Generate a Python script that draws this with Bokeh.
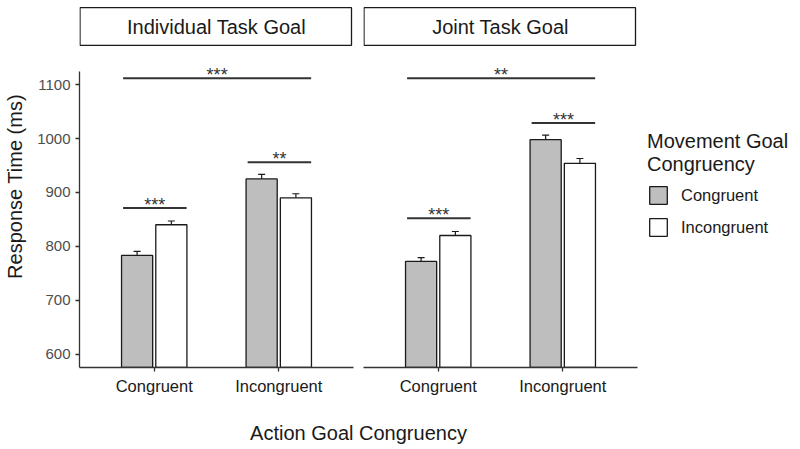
from bokeh.plotting import figure
from bokeh.models import (ColumnDataSource, Range1d, FixedTicker, Whisker, TeeHead,
                          Legend, LegendItem, Label)
from bokeh.layouts import row, column
from bokeh.embed import file_html
from bokeh.resources import INLINE
from bokeh.core.properties import value

# ---- data -------------------------------------------------------------
action_levels = ["Congruent", "Incongruent"]          # x categories
movement_levels = ["Congruent", "Incongruent"]        # fill groups
panel_titles = ["Individual Task Goal", "Joint Task Goal"]

rt_individual_cong = [783, 925]
rt_individual_incong = [840, 890]
se_individual_cong = [7.5, 8.5]
se_individual_incong = [7, 7.5]

rt_joint_cong = [772, 998]
rt_joint_incong = [820, 954]
se_joint_cong = [7, 8.5]
se_joint_incong = [7.5, 9]

# significance brackets: first / last action index spanned, height, label
sig_individual_from = [1, 2, 1]
sig_individual_to = [1, 2, 2]
sig_individual_y = [871, 956, 1112]
sig_individual_lab = ["***", "**", "***"]

sig_joint_from = [1, 2, 1]
sig_joint_to = [1, 2, 2]
sig_joint_y = [852, 1029, 1112]
sig_joint_lab = ["***", "***", "**"]

y_ticks = [600, 700, 800, 900, 1000, 1100]

# ---- style ------------------------------------------------------------
FONT = "Liberation Sans"
GREY_FILL = "#BEBEBE"
INK = "#1a1a1a"
AXIS_INK = "#333333"
Y_LO, Y_HI = 575, 1125          # panel limits (expanded 600-1100)
Y_TOP = 1247                    # room above panel for the strip
STRIP_BOTTOM, STRIP_TOP = 1173, 1243
X_LO, X_HI = 0.4, 2.6
PX_PER_UNIT = 274 / (X_HI - X_LO)
DODGE = 0.1375
BAR_W = 0.25


def make_panel(title, cong, incong, se_c, se_i, s_from, s_to, s_y, s_lab,
               width, border_left, border_right, with_y_axis, x_hi):
    p = figure(width=width, height=410, output_backend="svg", toolbar_location=None,
               x_range=Range1d(X_LO, x_hi), y_range=Range1d(Y_LO, Y_TOP),
               min_border_left=border_left, min_border_right=border_right,
               min_border_top=5, min_border_bottom=43,
               y_axis_location="left" if with_y_axis else None,
               title=None)
    p.outline_line_color = None
    p.grid.visible = False
    p.background_fill_color = "white"
    p.border_fill_color = "white"

    pos = [i + 1 for i in range(len(action_levels))]
    src_c = ColumnDataSource(dict(x=[v - DODGE for v in pos], top=cong,
                                  lo=[m - e for m, e in zip(cong, se_c)],
                                  hi=[m + e for m, e in zip(cong, se_c)]))
    src_i = ColumnDataSource(dict(x=[v + DODGE for v in pos], top=incong,
                                  lo=[m - e for m, e in zip(incong, se_i)],
                                  hi=[m + e for m, e in zip(incong, se_i)]))
    r_c = p.vbar(x="x", top="top", bottom=0, width=BAR_W, source=src_c,
                 fill_color=GREY_FILL, line_color=INK, line_width=1.3)
    r_i = p.vbar(x="x", top="top", bottom=0, width=BAR_W, source=src_i,
                 fill_color="white", line_color=INK, line_width=1.3)
    for src in (src_c, src_i):
        w = Whisker(base="x", lower="lo", upper="hi", source=src,
                    line_color=INK, line_width=1.2,
                    upper_head=TeeHead(size=7, line_color=INK, line_width=1.2),
                    lower_head=TeeHead(size=7, line_color=INK, line_width=1.2))
        p.add_layout(w)

    # significance brackets
    sig = ColumnDataSource(dict(x0=[a - 0.25 for a in s_from],
                                x1=[b + 0.26 for b in s_to],
                                xm=[(a + b) / 2 + 0.005 for a, b in zip(s_from, s_to)],
                                y=s_y, lab=s_lab))
    p.segment(x0="x0", x1="x1", y0="y", y1="y", source=sig,
              line_color=AXIS_INK, line_width=2)
    p.text(x="xm", y="y", text="lab", source=sig, text_align="center",
           text_baseline="alphabetic", y_offset=-3, text_color=AXIS_INK,
           text_font=value(FONT), text_font_size="18px")

    # facet strip
    p.quad(left=[X_LO + 0.004], right=[X_HI - 0.016], bottom=[STRIP_BOTTOM],
           top=[STRIP_TOP], fill_color="white", line_color=INK, line_width=1.3)
    p.text(x=[(X_LO + X_HI) / 2], y=[(STRIP_BOTTOM + STRIP_TOP) / 2], text=[title],
           text_align="center", text_baseline="middle", text_color=INK,
           text_font=value(FONT), text_font_size="20px")

    # x axis
    xa = p.xaxis[0]
    xa.ticker = FixedTicker(ticks=pos)
    xa.major_label_overrides = {i: lab for i, lab in zip(pos, action_levels)}
    xa.bounds = (X_LO, X_HI)
    xa.minor_tick_line_color = None
    xa.major_tick_in = 0
    xa.major_tick_out = 4
    xa.axis_line_color = AXIS_INK
    xa.axis_line_width = 1.3
    xa.major_tick_line_color = AXIS_INK
    xa.major_tick_line_width = 1.3
    xa.major_label_text_font = FONT
    xa.major_label_text_font_size = "16.5px"
    xa.major_label_text_color = INK
    xa.major_label_standoff = 5

    if with_y_axis:
        ya = p.yaxis[0]
        ya.ticker = FixedTicker(ticks=y_ticks)
        ya.bounds = (Y_LO, Y_HI)
        ya.minor_tick_line_color = None
        ya.major_tick_in = 0
        ya.major_tick_out = 4
        ya.axis_line_color = AXIS_INK
        ya.axis_line_width = 1.3
        ya.major_tick_line_color = AXIS_INK
        ya.major_tick_line_width = 1.3
        ya.major_label_text_font = FONT
        ya.major_label_text_font_size = "15px"
        ya.major_label_text_color = "#4D4D4D"
        ya.major_label_standoff = 5
        ya.axis_label = "Response Time (ms)"
        ya.axis_label_text_font = FONT
        ya.axis_label_text_font_size = "20px"
        ya.axis_label_text_font_style = "normal"
        ya.axis_label_text_color = INK
        ya.axis_label_standoff = 8
    return p, r_c, r_i


p_left, _, _ = make_panel(panel_titles[0], rt_individual_cong, rt_individual_incong,
                          se_individual_cong, se_individual_incong,
                          sig_individual_from, sig_individual_to, sig_individual_y,
                          sig_individual_lab, width=358, border_left=79, border_right=5,
                          with_y_axis=True, x_hi=X_HI)

right_frame = 442 - 5 - 5
p_right, rc, ri = make_panel(panel_titles[1], rt_joint_cong, rt_joint_incong,
                             se_joint_cong, se_joint_incong,
                             sig_joint_from, sig_joint_to, sig_joint_y, sig_joint_lab,
                             width=442, border_left=5, border_right=5,
                             with_y_axis=False, x_hi=X_LO + right_frame / PX_PER_UNIT)

legend = Legend(items=[LegendItem(label=movement_levels[0], renderers=[rc]),
                       LegendItem(label=movement_levels[1], renderers=[ri])],
                location=(284, 129), title="Movement Goal\nCongruency",
                title_text_font=FONT, title_text_font_size="20px",
                title_text_font_style="normal", title_text_color=INK,
                title_standoff=8,
                label_text_font=FONT, label_text_font_size="16.5px",
                label_text_color=INK, label_standoff=12,
                glyph_width=22, glyph_height=22, spacing=10,
                padding=0, margin=0, border_line_color=None,
                background_fill_alpha=0)
p_right.add_layout(legend)

# shared x-axis title under both panels
p_title = figure(width=800, height=39, output_backend="svg", toolbar_location=None,
                 x_range=Range1d(0, 800), y_range=Range1d(0, 39),
                 min_border=0, x_axis_location=None, y_axis_location=None, title=None)
p_title.outline_line_color = None
p_title.grid.visible = False
p_title.add_layout(Label(x=358, y=17, text="Action Goal Congruency",
                         text_align="center", text_baseline="middle",
                         text_font=FONT, text_font_size="20px", text_color=INK))

layout = column(row(p_left, p_right), p_title)
open("out.html", "w").write(file_html(layout, INLINE))
